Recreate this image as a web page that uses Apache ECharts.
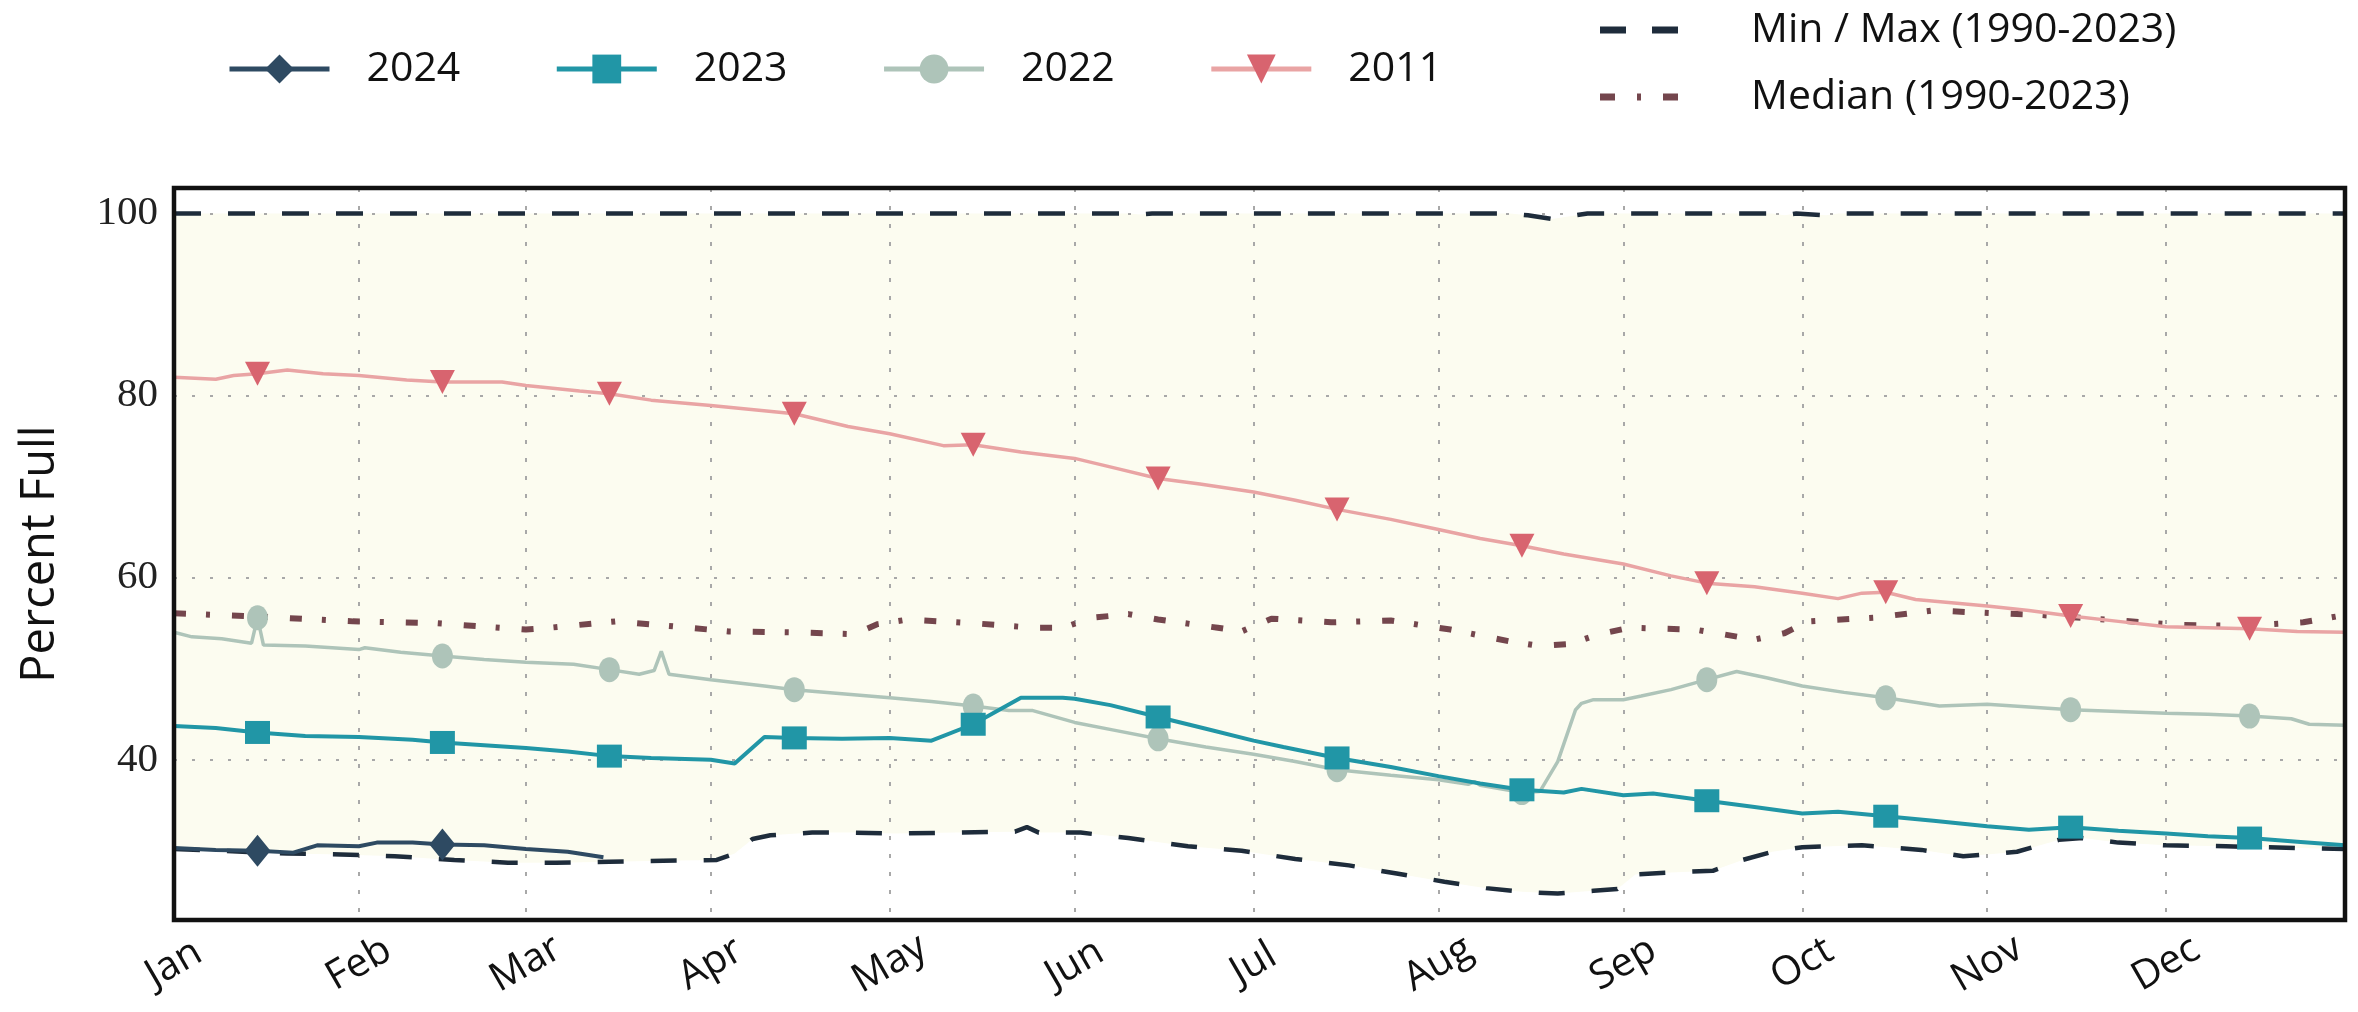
<!DOCTYPE html>
<html><head><meta charset="utf-8">
<script src="https://cdn.jsdelivr.net/npm/echarts@6/dist/echarts.min.js"></script>
<style>html,body{margin:0;padding:0;background:#fff}#c{width:2358px;height:1012px}</style>
</head><body><div id="c"></div>
<script>
// x = day of year (0 = Jan 1), y = percent full
const monthNames = ['Jan','Feb','Mar','Apr','May','Jun','Jul','Aug','Sep','Oct','Nov','Dec'];
const monthStarts = [0,31,59,90,120,151,181,212,243,273,304,334];
const markerDays = [14,45,73,104,134,165,195,226,257,287,318,348];
const yTicks = [40,60,80,100];

const s2024 = [[0,30.3],[7,30.1],[14,30.0],[20,29.8],[24,30.6],[31,30.5],[34,30.9],[40,30.9],[45,30.7],[52,30.6],[59,30.2],[66,29.9],[72,29.3]];

const s2023 = [[0,43.7],[7,43.5],[14,43.0],[22,42.6],[31,42.5],[40,42.2],[45,41.9],[52,41.6],[59,41.3],[66,40.9],[73,40.4],[80,40.2],[90,40.0],[94,39.6],[99,42.5],[104,42.4],[112,42.3],[120,42.4],[127,42.1],[134,43.9],[142,46.8],[149,46.8],[151,46.7],[157,46.0],[165,44.7],[173,43.4],[181,42.1],[186,41.4],[195,40.2],[204,39.2],[212,38.2],[219,37.4],[226,36.7],[233,36.4],[236,36.8],[243,36.1],[248,36.3],[257,35.5],[265,34.8],[273,34.1],[279,34.3],[287,33.8],[295,33.3],[304,32.7],[311,32.3],[318,32.6],[326,32.2],[334,31.9],[341,31.6],[348,31.4],[356,31.0],[364,30.6]];

const s2022 = [[0,54.0],[3,53.5],[8,53.3],[13,52.8],[14,55.6],[15,52.6],[22,52.5],[31,52.1],[32,52.3],[38,51.8],[45,51.4],[52,51.0],[59,50.7],[67,50.5],[73,49.9],[78,49.4],[80.5,49.8],[81.7,51.9],[83,49.4],[90,48.8],[99,48.1],[104,47.7],[113,47.2],[120,46.8],[127,46.4],[134,45.9],[140,45.4],[144,45.4],[151,44.1],[158,43.2],[165,42.3],[173,41.4],[181,40.6],[188,39.8],[195,38.9],[204,38.3],[212,37.8],[217,37.3],[218,37.6],[219,37.2],[226,36.4],[229,36.5],[232,39.8],[235,45.5],[236,46.2],[238,46.6],[243,46.6],[246,47.0],[251,47.7],[257,48.8],[262,49.7],[267,49.0],[273,48.1],[280,47.4],[287,46.8],[296,45.9],[304,46.1],[311,45.8],[318,45.5],[326,45.3],[334,45.1],[341,45.0],[348,44.8],[355,44.5],[358,43.9],[364,43.8]];

const s2011 = [[0,82.0],[7,81.8],[10,82.2],[14,82.4],[19,82.8],[25,82.4],[31,82.2],[39,81.7],[45,81.5],[55,81.5],[59,81.1],[68,80.5],[73,80.2],[80,79.5],[90,78.9],[104,78.0],[113,76.6],[120,75.8],[129,74.5],[134,74.6],[142,73.8],[151,73.1],[158,72.0],[165,70.9],[172,70.3],[181,69.4],[188,68.5],[195,67.5],[204,66.4],[212,65.3],[219,64.3],[226,63.5],[233,62.6],[243,61.5],[251,60.2],[257,59.4],[265,59.0],[273,58.3],[279,57.7],[283,58.3],[287,58.4],[292,57.6],[304,56.9],[311,56.4],[318,55.8],[326,55.2],[334,54.6],[341,54.5],[348,54.4],[356,54.1],[364,54.0]];

const sMedian = [[0,56.1],[15,55.7],[30,55.2],[44,55.0],[59,54.3],[63,54.5],[74,55.2],[83,54.7],[93,54.1],[104,54.0],[114,53.8],[118,54.9],[123,55.4],[134,55.0],[144,54.5],[149,54.5],[154,55.6],[160,56.0],[165,55.4],[175,54.5],[179,54.1],[184,55.5],[194,55.1],[204,55.3],[214,54.3],[224,53.0],[229,52.5],[234,52.7],[239,53.8],[244,54.5],[255,54.3],[265,53.2],[270,53.9],[274,55.2],[285,55.6],[295,56.4],[305,56.1],[313,55.9],[326,55.3],[336,54.8],[347,54.7],[357,55.1],[364,55.9]];

const sMin = [[0,30.2],[19,29.7],[28,29.6],[37,29.4],[47,29.0],[56,28.7],[64,28.7],[73,28.8],[82,28.9],[91,29.0],[94,29.7],[97,31.3],[100,31.7],[107,32.0],[114,32.0],[121,31.9],[131,32.0],[141,32.1],[143,32.6],[145,32.0],[152,32.0],[160,31.4],[170,30.5],[179,30.0],[188,29.1],[197,28.4],[205,27.5],[213,26.6],[220,25.9],[226,25.5],[232,25.3],[238,25.6],[242,25.8],[245,27.4],[250,27.6],[258,27.8],[263,29.0],[268,29.9],[273,30.4],[283,30.6],[293,30.1],[300,29.4],[304,29.6],[309,29.9],[316,31.2],[320,31.4],[326,30.9],[334,30.6],[344,30.5],[356,30.3],[364,30.2]];

const sMax = [[0,100],[160,100],[162,99.9],[164,100],[224,100],[227,99.8],[231,99.4],[234,99.7],[237,100],[268,100],[270,99.8],[272,100],[277,99.8],[279,100],[364,100]];

const C = {
  y2024:'#2e4a62', y2023:'#2196a6', y2022:'#aec4b9', y2011line:'#e9a4a4', y2011mk:'#d8646f',
  median:'#74464d', minmax:'#1e2c3b', band:'#fcfcf0', frame:'#111111', grid:'#a8a8a8'
};
const FONT = '"Open Sans", "Noto Sans", sans-serif';
const TRI_DOWN = 'path://M0,0L20,0L10,19Z';

function mk(size){ return function(v){ return markerDays.indexOf(v[0]) >= 0 ? size : 0; }; }

const chart = echarts.init(document.getElementById('c'), null, {renderer:'canvas'});
const gridL = 174, gridT = 188, gridR = 13, gridB = 92;

chart.setOption({
  animation:false,
  backgroundColor:'#ffffff',
  grid:{left:gridL, top:gridT, right:gridR, bottom:gridB, containLabel:false},
  legend:[
    {
      data:['2024','2023','2022','2011'],
      orient:'horizontal', left:222, top:42,
      itemWidth:100, itemHeight:36, itemGap:94,
      selectedMode:false,
      lineStyle:{width:5},
      textStyle:{fontFamily:FONT, fontSize:41, color:'#111', lineHeight:44, padding:[0,0,0,32]}
    },
    {
      data:[
        {name:'Min / Max (1990-2023)', icon:'path://M0,0H26V7H0Z M52,0H78V7H52Z'},
        {name:'Median (1990-2023)', icon:'path://M0,0H15V7H0Z M37,0H41V7H37Z M63,0H78V7H63Z'}
      ],
      orient:'vertical', left:1595, top:3,
      itemWidth:78, itemHeight:7, itemGap:23,
      selectedMode:false,
      textStyle:{fontFamily:FONT, fontSize:41, color:'#111', lineHeight:44, padding:[0,0,0,68]}
    }
  ],
  xAxis:{
    type:'value', min:0, max:364, z:2,
    axisLine:{show:false},
    axisTick:{show:false, customValues:monthStarts},
    splitLine:{show:true, lineStyle:{color:C.grid, width:2, type:[4,14]}},
    axisLabel:{
      customValues:monthStarts, rotate:30, margin:44,
      align:'center', verticalAlign:'middle',
      fontFamily:FONT, fontSize:40, color:'#111',
      formatter:function(v){ return monthNames[monthStarts.indexOf(v)] || ''; }
    }
  },
  yAxis:{
    type:'value', min:22.4, max:102.8, z:2,
    name:'Percent Full', nameLocation:'middle', nameGap:110,
    nameTextStyle:{fontFamily:FONT, fontSize:47, color:'#111'},
    axisLine:{show:false},
    axisTick:{show:false, customValues:yTicks},
    splitLine:{show:true, lineStyle:{color:C.grid, width:2, type:[3,15]}},
    axisLabel:{customValues:yTicks, margin:16, fontFamily:'"Liberation Serif", "DejaVu Serif", serif', fontSize:41, color:'#222'}
  },
  graphic:[{
    type:'rect', z:100, silent:true,
    shape:{x:gridL, y:gridT, width:2358-gridL-gridR, height:1012-gridT-gridB},
    style:{fill:'none', stroke:C.frame, lineWidth:4.5}
  }],
  series:[
    {name:'bandMax', type:'line', data:sMax, symbol:'none', z:1, silent:true,
     lineStyle:{width:0, opacity:0}, areaStyle:{color:C.band, opacity:1, origin:'start'}},
    {name:'bandMin', type:'line', data:sMin, symbol:'none', z:1, silent:true,
     lineStyle:{width:0, opacity:0}, areaStyle:{color:'#ffffff', opacity:1, origin:'start'}},
    {name:'Min / Max (1990-2023)', type:'line', data:sMax, symbol:'none', z:3,
     itemStyle:{color:C.minmax}, lineStyle:{color:C.minmax, width:4.5, type:[27,27]}},
    {name:'Min / Max (1990-2023)', type:'line', data:sMin, symbol:'none', z:3,
     itemStyle:{color:C.minmax}, lineStyle:{color:C.minmax, width:4.5, type:[26,27]}},
    {name:'Median (1990-2023)', type:'line', data:sMedian, symbol:'none', z:3,
     itemStyle:{color:C.median}, lineStyle:{color:C.median, width:6, type:[12,20,4,22]}},
    {name:'2011', type:'line', data:s2011, z:4, symbol:TRI_DOWN, symbolSize:mk([25,24]),
     itemStyle:{color:C.y2011mk}, lineStyle:{color:C.y2011line, width:3.5}},
    {name:'2022', type:'line', data:s2022, z:4, symbol:'circle', symbolSize:mk([21,25]),
     itemStyle:{color:C.y2022}, lineStyle:{color:C.y2022, width:3.5}},
    {name:'2023', type:'line', data:s2023, z:4, symbol:'rect', symbolSize:mk([25,23]),
     itemStyle:{color:C.y2023}, lineStyle:{color:C.y2023, width:4}},
    {name:'2024', type:'line', data:s2024, z:4, symbol:'diamond', symbolSize:mk([26,32]),
     itemStyle:{color:C.y2024}, lineStyle:{color:C.y2024, width:4}}
  ]
});
</script></body></html>
